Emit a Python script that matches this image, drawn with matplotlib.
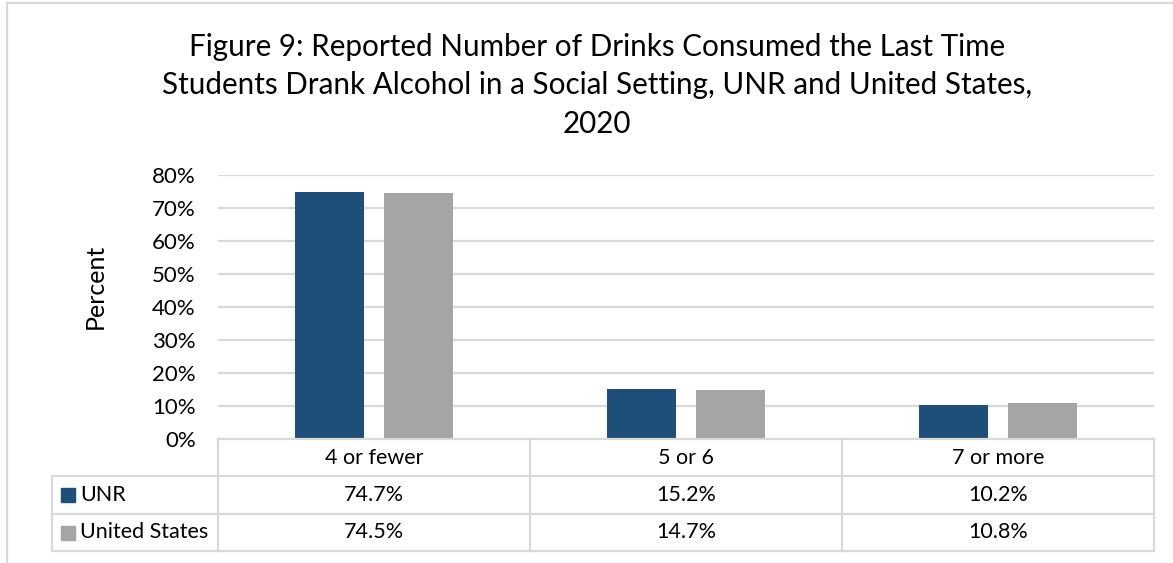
import matplotlib
matplotlib.use("Agg")
import matplotlib.pyplot as plt
from matplotlib.lines import Line2D
from matplotlib.patches import Rectangle

categories = ["4 or fewer", "5 or 6", "7 or more"]
series_names = ["UNR", "United States"]
unr = [74.7, 15.2, 10.2]
us = [74.5, 14.7, 10.8]
yticks = [0, 10, 20, 30, 40, 50, 60, 70, 80]
title = ("Figure 9: Reported Number of Drinks Consumed the Last Time\n"
         "Students Drank Alcohol in a Social Setting, UNR and United States,\n"
         "2020")

colors = ["#1f4e79", "#a5a5a5"]
grid_c = "#d9d9d9"
FONT = "Lato"
plt.rcParams['font.family'] = [FONT, 'DejaVu Sans']

W, H = 1173, 563
fig = plt.figure(figsize=(W / 100, H / 100), dpi=100)

def fx(x):
    return x / W

def fy(y):
    return 1 - y / H

TXT = 15.5

# axes: x 218..1154, y 175 (80%) .. 439 (0%)
ax_l, ax_r, ax_t, ax_b = 218, 1154, 175, 439
ax = fig.add_axes([fx(ax_l), fy(ax_b), fx(ax_r - ax_l), (ax_b - ax_t) / H])
xs = list(range(len(categories)))
off = 0.142
bw = 0.221
ax.bar([x - off for x in xs], unr, width=bw, color=colors[0], zorder=3)
ax.bar([x + off for x in xs], us, width=bw, color=colors[1], zorder=3)
ax.set_xlim(-0.5, len(categories) - 0.5)
ax.set_ylim(0, 80)
ax.set_yticks(yticks)
ax.set_yticklabels([f"{t}%" for t in yticks], fontsize=16)
ax.set_xticks([])
ax.tick_params(axis='y', length=0, pad=16)
for s in ax.spines.values():
    s.set_visible(False)
ax.yaxis.grid(True, color=grid_c, linewidth=1.6, zorder=0)
ax.set_axisbelow(True)
fig.text(fx(95), fy(286), "Percent", rotation=90, ha='center', va='center', fontsize=18)

fig.suptitle(title, x=fx(597), y=fy(33), fontsize=21.3, va='top', linespacing=1.45)

# data table
col_edges = [218, 530, 842, 1154]
row_edges = [439, 476, 514, 551]
left_x = 52
lw = 1.6

def hline(x0, x1, y):
    fig.add_artist(Line2D([fx(x0), fx(x1)], [fy(y), fy(y)], color=grid_c, lw=lw))

def vline(x, y0, y1):
    fig.add_artist(Line2D([fx(x), fx(x)], [fy(y0), fy(y1)], color=grid_c, lw=lw))

hline(218, 1154, 439)
for y in row_edges[1:]:
    hline(left_x, 1154, y)
for x in col_edges:
    vline(x, 439, 551)
vline(left_x, 476, 551)

for i, c in enumerate(categories):
    cx = (col_edges[i] + col_edges[i + 1]) / 2
    fig.text(fx(cx), fy((row_edges[0] + row_edges[1]) / 2), c, ha='center', va='center', fontsize=TXT)
for r, (name, vals) in enumerate(zip(series_names, [unr, us])):
    cy = (row_edges[r + 1] + row_edges[r + 2]) / 2
    fig.add_artist(Rectangle((fx(61), fy(cy + 7)), fx(14), 14 / H, color=colors[r]))
    fig.text(fx(80), fy(cy), name, ha='left', va='center', fontsize=TXT)
    for i, v in enumerate(vals):
        cx = (col_edges[i] + col_edges[i + 1]) / 2
        fig.text(fx(cx), fy(cy), f"{v:.1f}%", ha='center', va='center', fontsize=TXT)

# chart frame
hline(7, W, 3)
vline(7, 3, H)

fig.savefig("out.png", dpi=100)
